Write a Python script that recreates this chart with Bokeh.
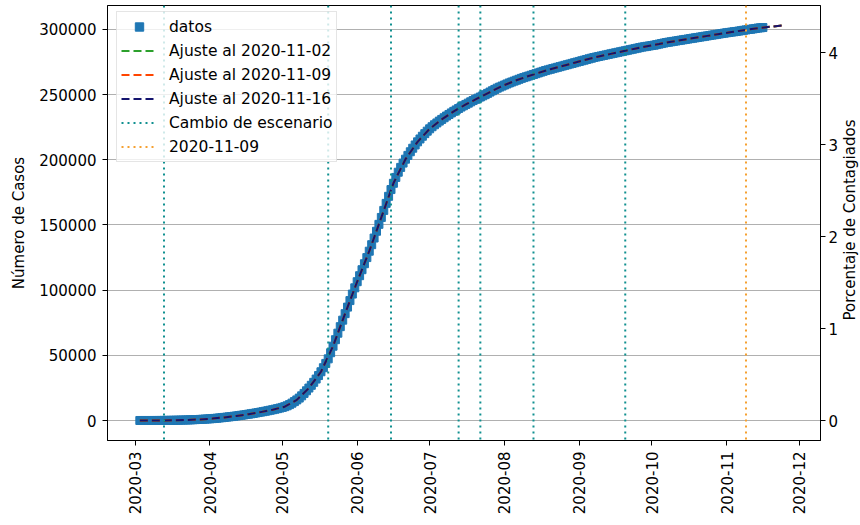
import math
import pandas as pd
from bokeh.plotting import figure
from bokeh.models import (Range1d, LinearAxis, FixedTicker, BasicTickFormatter,
                          Span, Legend, LegendItem, ColumnDataSource, Label)
from bokeh.embed import file_html
from bokeh.resources import INLINE

# ---------------- data ----------------
inicio_datos = "2020-03-03"
casos_mar = [1, 1, 2, 4, 6, 9, 13, 20, 30, 45, 65, 85, 105, 130, 160, 195, 240, 290, 340,
             390, 450, 520, 600, 680, 760, 850, 950, 1060, 1180]
casos_abr = [1300, 1450, 1600, 1780, 1980, 2170, 2380, 2600, 2800, 3020, 3250, 3500, 3750,
             4010, 4290, 4570, 4860, 5150, 5450, 5780, 6100, 6430, 6780, 7130, 7500, 7880,
             8270, 8680, 9100, 9550]
casos_may = [10050, 10600, 11300, 12200, 13300, 14500, 15800, 17200, 18900, 20800, 22800,
             24900, 27000, 29300, 31800, 34500, 37400, 40500, 43800, 47300, 52000, 57000,
             62000, 67000, 72000, 77000, 82000, 87000, 92000, 97000, 101800]
casos_jun = [106500, 111100, 115700, 120300, 125000, 129900, 134900, 140000, 145200, 150500,
             155800, 161200, 166600, 172000, 177200, 182000, 186500, 190500, 194200, 197500,
             200500, 203400, 206200, 208900, 211400, 213800, 216000, 218100, 220100, 222000]
casos_jul = [223800, 225400, 226900, 228300, 229700, 231000, 232300, 233600, 234800, 236000,
             237200, 238300, 239400, 240500, 241500, 242500, 243500, 244500, 245500, 246400,
             247300, 248200, 249100, 250000, 251000, 252000, 253000, 254000, 255000, 255800,
             256600]
casos_ago = [257400, 258200, 259000, 259700, 260400, 261100, 261800, 262500, 263100, 263700,
             264300, 264900, 265500, 266100, 266700, 267300, 267900, 268500, 269000, 269500,
             270000, 270500, 271000, 271500, 272000, 272500, 273000, 273500, 274000, 274500,
             275000]
casos_sep = [275500, 276000, 276500, 277000, 277500, 278000, 278500, 278900, 279300, 279700,
             280100, 280500, 280900, 281300, 281700, 282100, 282500, 282900, 283300, 283700,
             284100, 284500, 284900, 285300, 285700, 286100, 286500, 286800, 287100, 287400]
casos_oct = [287700, 288000, 288400, 288800, 289200, 289600, 290000, 290300, 290600, 290900,
             291200, 291500, 291800, 292100, 292400, 292700, 293000, 293300, 293600, 293900,
             294200, 294500, 294800, 295100, 295400, 295700, 296000, 296300, 296600, 296900,
             297200]
casos_nov = [297500, 297750, 298000, 298250, 298500, 298800, 299100, 299400, 299700, 300000,
             300200, 300500, 300800, 301100, 301300, 301500]

fechas_ajuste = ["2020-03-03", "2020-03-08", "2020-03-13", "2020-03-18", "2020-03-23",
                 "2020-03-28", "2020-04-02", "2020-04-07", "2020-04-12", "2020-04-17",
                 "2020-04-22", "2020-04-27", "2020-05-02", "2020-05-07", "2020-05-12",
                 "2020-05-17", "2020-05-22", "2020-05-27", "2020-06-01", "2020-06-06",
                 "2020-06-11", "2020-06-16", "2020-06-21", "2020-06-26", "2020-07-01",
                 "2020-07-06", "2020-07-11", "2020-07-16", "2020-07-21", "2020-07-26",
                 "2020-07-31", "2020-08-05", "2020-08-10", "2020-08-15", "2020-08-20",
                 "2020-08-25", "2020-08-30", "2020-09-04", "2020-09-09", "2020-09-14",
                 "2020-09-19", "2020-09-24", "2020-09-29", "2020-10-04", "2020-10-09",
                 "2020-10-14", "2020-10-19", "2020-10-24", "2020-10-29", "2020-11-03",
                 "2020-11-08", "2020-11-13", "2020-11-18", "2020-11-23", "2020-11-25"]
ajuste_valores = [1, 9, 65, 195, 450, 850, 1450, 2380, 3500, 4860, 6430, 8270, 10600, 15800,
                  24900, 37400, 57000, 82000, 106500, 129900, 155800, 182000, 200500, 213800,
                  223800, 231000, 237200, 242500, 247300, 252000, 256600, 260400, 263700,
                  266700, 269500, 272000, 274500, 277000, 279300, 281300, 283300, 285300,
                  287100, 288800, 290600, 292100, 293600, 295100, 296600, 298000, 299400,
                  300800, 301900, 302900, 303300]

cambios_escenario = ["2020-03-13", "2020-05-20", "2020-06-15", "2020-07-13", "2020-07-22",
                     "2020-08-13", "2020-09-20"]
fecha_marcada = "2020-11-09"
poblacion = 7058800

meses_ticks = ["2020-03", "2020-04", "2020-05", "2020-06", "2020-07", "2020-08", "2020-09",
               "2020-10", "2020-11", "2020-12"]
casos_ticks = [0, 50000, 100000, 150000, 200000, 250000, 300000]
pct_ticks = [0, 1, 2, 3, 4]

# ---------------- build ----------------
casos = casos_mar + casos_abr + casos_may + casos_jun + casos_jul + casos_ago + casos_sep + casos_oct + casos_nov
fechas = pd.date_range(inicio_datos, periods=len(casos), freq="D")


def ms(d):
    return pd.Timestamp(d).value / 1e6


FONT = "DejaVu Sans"
W, H = 860, 525
BL, BR, BT, BB = 107, 40, 5, 85
base = pd.Timestamp("2020-03-01")
x_start = ms(base + pd.Timedelta(days=-11.39))
x_end = ms(base + pd.Timedelta(days=283.85))
y_start, y_end = -15345, 318414

p = figure(width=W, height=H, output_backend="svg", toolbar_location=None,
           x_axis_type="datetime",
           x_range=Range1d(x_start, x_end), y_range=Range1d(y_start, y_end),
           min_border_left=BL, min_border_right=BR, min_border_top=BT, min_border_bottom=BB)
p.background_fill_color = "white"
p.border_fill_color = "white"
p.outline_line_color = "black"
p.outline_line_width = 1
p.outline_line_alpha = 1

p.extra_y_ranges = {"pct": Range1d(y_start / poblacion * 100, y_end / poblacion * 100)}

src = ColumnDataSource(dict(x=fechas, y=casos))
r_datos = p.scatter("x", "y", source=src, marker="square", size=8,
                    fill_color="#1f77b4", line_color="#1f77b4")

src_aj = ColumnDataSource(dict(x=pd.to_datetime(fechas_ajuste), y=ajuste_valores))
r_aj1 = p.line("x", "y", source=src_aj, line_color="#2ca02c", line_width=2, line_dash="8 4")
r_aj2 = p.line("x", "y", source=src_aj, line_color="orangered", line_width=2, line_dash="8 4")
r_aj3 = p.line("x", "y", source=src_aj, line_color="#14146e", line_width=2, line_dash="8 4")

TEAL = "#109090"
ORANGE = "#f5a030"
DOT = "2 4"
for d in cambios_escenario:
    p.add_layout(Span(location=ms(d), dimension="height", line_color=TEAL,
                      line_width=2, line_dash=DOT))
p.add_layout(Span(location=ms(fecha_marcada), dimension="height", line_color=ORANGE,
                  line_width=2, line_dash=DOT))
NAN = float("nan")
r_cambio = p.line(x=[NAN], y=[NAN], line_color=TEAL, line_width=2, line_dash=DOT)
r_marca = p.line(x=[NAN], y=[NAN], line_color=ORANGE, line_width=2, line_dash=DOT)

# grid
p.xgrid.visible = False
p.ygrid.ticker = FixedTicker(ticks=casos_ticks)
p.ygrid.grid_line_color = "#b0b0b0"
p.ygrid.grid_line_width = 1

# axes
xa = p.xaxis[0]
xa.ticker = FixedTicker(ticks=[ms(m + "-01") for m in meses_ticks])
xa.major_label_overrides = {ms(m + "-01"): m for m in meses_ticks}
xa.major_label_orientation = math.pi / 2

ya = p.yaxis[0]
ya.ticker = FixedTicker(ticks=casos_ticks)
ya.formatter = BasicTickFormatter(use_scientific=False)
ya.axis_label = "Número de Casos"

ra = LinearAxis(y_range_name="pct", ticker=FixedTicker(ticks=pct_ticks))
p.add_layout(ra, "right")

for ax in (xa, ya, ra):
    ax.axis_line_color = "black"
    ax.major_tick_line_color = "black"
    ax.major_tick_in = 0
    ax.major_tick_out = 5
    ax.minor_tick_line_color = None
    ax.major_label_text_font = FONT
    ax.major_label_text_font_size = "15px"
    ax.major_label_text_color = "black"
    ax.major_label_standoff = 6
    ax.axis_label_text_font = FONT
    ax.axis_label_text_font_size = "15px"
    ax.axis_label_text_font_style = "normal"
    ax.axis_label_text_color = "black"
    ax.axis_label_standoff = 8
ra.major_label_standoff = 3

# right-hand axis title, reading bottom-to-top as in the reference (placed in the right panel)
frame_h = H - BT - BB
p.add_layout(Label(x=8, y=frame_h / 2 + 3, x_units="screen", y_units="screen",
                   text="Porcentaje de Contagiados", angle=math.pi / 2,
                   text_align="center", text_baseline="middle",
                   text_font=FONT, text_font_size="15px", text_color="black"), "right")

legend = Legend(items=[
    LegendItem(label="datos", renderers=[r_datos]),
    LegendItem(label="Ajuste al 2020-11-02", renderers=[r_aj1]),
    LegendItem(label="Ajuste al 2020-11-09", renderers=[r_aj2]),
    LegendItem(label="Ajuste al 2020-11-16", renderers=[r_aj3]),
    LegendItem(label="Cambio de escenario", renderers=[r_cambio]),
    LegendItem(label=fecha_marcada, renderers=[r_marca]),
], location=(9, 278))
legend.label_text_font = FONT
legend.label_text_font_size = "15.5px"
legend.label_text_color = "black"
legend.glyph_width = 36
legend.glyph_height = 21
legend.label_height = 21
legend.spacing = 3
legend.padding = 4
legend.margin = 0
legend.label_standoff = 12
legend.border_line_color = "#cccccc"
legend.border_line_width = 1
legend.background_fill_color = "white"
legend.background_fill_alpha = 0.8
p.add_layout(legend)

open("out.html", "w").write(file_html(p, INLINE))
